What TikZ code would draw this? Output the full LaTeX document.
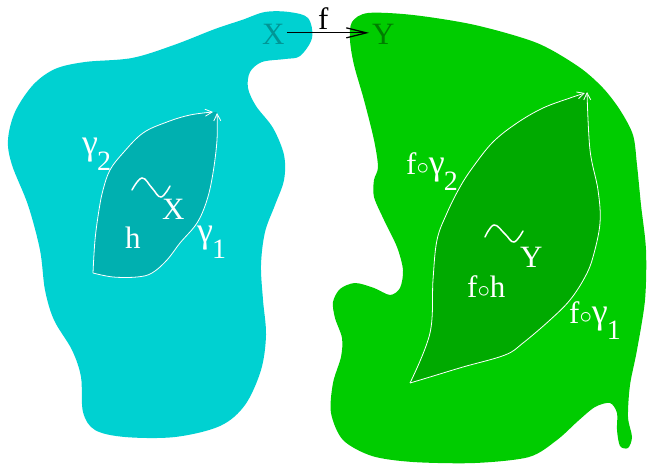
\documentclass[tikz,border=0pt]{standalone}
\usepackage{fontspec}
\setmainfont{Liberation Serif}
\usetikzlibrary{arrows.meta}
\definecolor{cyanblob}{RGB}{0,209,209}
\definecolor{cyanlens}{RGB}{0,176,176}
\definecolor{greenblob}{RGB}{0,204,0}
\definecolor{greenlens}{RGB}{0,170,0}
\definecolor{xcol}{RGB}{0,150,150}
\definecolor{ycol}{RGB}{0,125,0}
\newcommand\gam{{\fontsize{36}{36}\selectfont γ}}
\newcommand\lowsub[1]{\kern-1pt\raisebox{-16pt}{\fontsize{28}{28}\selectfont #1}}
\begin{document}
\begin{tikzpicture}[x=1pt,y=-1pt,
  lbl/.style={text=white,inner sep=0pt,anchor=base west,font=\fontsize{31}{34}\selectfont},
  toplbl/.style={inner sep=0pt,anchor=base west,font=\fontsize{31}{34}\selectfont},
  tildestroke/.style={white,line width=1.5pt,line cap=round},
  pathline/.style={white,line width=0.8pt,-{Straight Barb[length=7pt,width=7pt]}},
  maparrow/.style={black,line width=1.3pt,-{Straight Barb[length=20pt,width=10pt,line width=1.3pt]}},
]
\useasboundingbox (0,0) rectangle (648,465);
% cyan blob
\fill[cyanblob] plot[smooth cycle,tension=0.55] coordinates {
(289,12) (308,18) (312,38) (300,56) (285,59) (262,62) (250,72) (248,88) (256,106)
(273,128) (284,155) (284,180) (275,205) (265,232) (261,265) (263,300) (266,335)
(261,370) (245,405) (220,426) (175,437) (125,437) (95,430) (83,412) (81,377)
(72,350) (54,320) (45,290) (40,250) (28,205) (12,165) (8,140) (15,112) (33,85)
(55,69) (85,62) (132,58) (174,45) (215,29) (242,20) (265,12)};
% green blob
\fill[greenblob] plot[smooth cycle,tension=0.5] coordinates {
(352,22) (368,13) (413,15) (475,25) (537,43) (579,67) (603,88) (620,110) (633,135)
(637,165) (641,205) (646,250) (645,300) (637,350) (630,385) (628,417) (632,437)
(628,448) (620,446) (617,430) (617,413) (610,403) (595,407) (578,421) (557,440)
(529,457) (475,463) (413,462) (372,456) (343,440) (331,413) (333,383) (341,357)
(342,338) (335,318) (333,302) (340,289) (355,283) (374,288) (390,295) (400,288)
(403,270) (397,247) (384,220) (374,197) (374,180) (378,167) (374,140) (364,100)
(354,65) (350,40)};
% cyan lens
\fill[cyanlens] plot[smooth,tension=0.6] coordinates {
(93,273) (95,240) (99,210) (103,190) (110,170) (123,153) (143,133) (167,122) (190,115) (216,112)}
-- plot[smooth,tension=0.6] coordinates {
(217,113) (217,140) (213,173) (207,200) (197,223) (180,243) (167,260) (152,273) (137,277) (113,277) (93,273)} -- cycle;
\draw[pathline] plot[smooth,tension=0.6] coordinates {
(93,273) (95,240) (99,210) (103,190) (110,170) (123,153) (143,133) (167,122) (190,115) (213,112)};
\draw[pathline] plot[smooth,tension=0.6] coordinates {
(93,273) (113,277) (137,277) (152,273) (167,260) (180,243) (197,223) (207,200) (213,173) (217,140) (217,113)};
% green lens
\fill[greenlens] plot[smooth,tension=0.6] coordinates {
(410,383) (430,333) (433,280) (437,240) (447,213) (460,187) (473,167) (493,142) (517,123) (543,108) (570,98) (587,91)}
-- plot[smooth,tension=0.6] coordinates {
(587,92) (590,150) (598,190) (600,223) (593,257) (585,277) (570,300) (550,320) (523,343) (505,355) (463,367) (430,377) (410,383)} -- cycle;
\draw[pathline] plot[smooth,tension=0.6] coordinates {
(410,383) (430,333) (433,280) (437,240) (447,213) (460,187) (473,167) (493,142) (517,123) (543,108) (570,98) (585,93)};
\draw[pathline] plot[smooth,tension=0.6] coordinates {
(410,383) (430,377) (463,367) (505,355) (523,343) (550,320) (570,300) (585,277) (593,257) (600,223) (598,190) (590,150) (587,92)};
% top labels
\node[toplbl,text=xcol] (Xtop) at (262,45) {X};
\node[toplbl,text=ycol] (Ytop) at (372,45) {Y};
\node[toplbl,text=black] (ftop) at (318,30) {f};
\draw[maparrow] ([xshift=2pt,yshift=2pt]Xtop.east) -- ([xshift=-3pt,yshift=2pt]Ytop.west);
% cyan labels
\node[lbl] (g2) at (82,155) {\gam\lowsub{2}};
\node[lbl] (g1) at (197,243) {\gam\lowsub{1}};
\node[lbl] (h) at (125,248) {h};
\node[lbl] (Xc) at (162,220) {X};
\draw[tildestroke] plot[smooth,tension=0.7] coordinates {(132,190) (142,178) (152,188) (161,197) (170,186)};
% green labels
\node[lbl] (fg2) at (406,175) {f$\circ$\gam\lowsub{2}};
\node[lbl] (fg1) at (569,323) {f$\circ$\gam\lowsub{1}};
\node[lbl] (fh) at (467,298) {f$\circ$h};
\node[lbl] (Yc) at (520,267) {Y};
\draw[tildestroke] plot[smooth,tension=0.7] coordinates {(485,237) (494,225) (505,234) (514,242) (523,231)};
\end{tikzpicture}
\end{document}
